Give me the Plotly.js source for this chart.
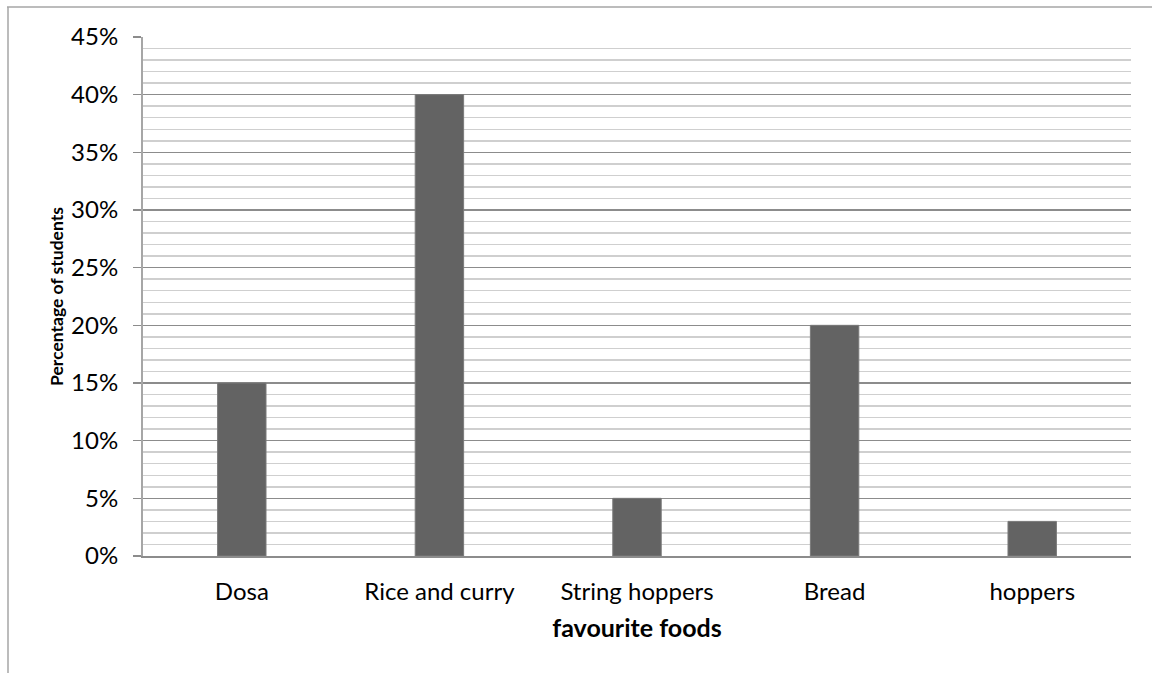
<!DOCTYPE html>
<html>
<head>
<meta charset="utf-8">
<script src="https://cdn.plot.ly/plotly-3.0.1.min.js"></script>
<style>html,body{margin:0;padding:0;background:#fff;}#chart{width:1153px;height:673px;}</style>
</head>
<body>
<div id="chart"></div>
<script>
const categories = ["Dosa", "Rice and curry", "String hoppers", "Bread", "hoppers"];
const percentages = [0.15, 0.40, 0.05, 0.20, 0.03];
const yTitle = "Percentage of students";
const xTitle = "favourite foods";

const FONT = "Lato, 'Open Sans', sans-serif";

const trace = {
  type: "bar",
  x: categories,
  y: percentages,
  marker: {color: "#636363", line: {color: "#7a7a7a", width: 1}},
  hoverinfo: "x+y"
};

const layout = {
  width: 1153,
  height: 673,
  margin: {l: 143, r: 22, t: 37, b: 117},
  paper_bgcolor: "#ffffff",
  plot_bgcolor: "#ffffff",
  showlegend: false,
  bargap: 0.755,
  font: {family: FONT, color: "#000000", size: 24},
  xaxis: {
    type: "category",
    showgrid: false,
    zeroline: false,
    showline: true,
    linecolor: "#8c8c8c",
    linewidth: 2,
    ticks: "",
    ticklabelstandoff: 13,
    tickfont: {family: FONT, size: 24, color: "#000"},
    title: {text: xTitle, font: {family: FONT, size: 25, color: "#000", weight: "bold"}, standoff: 16}
  },
  yaxis: {
    range: [0, 0.45],
    dtick: 0.05,
    tick0: 0,
    tickformat: ".0%",
    showgrid: true,
    gridcolor: "#8c8c8c",
    gridwidth: 1.5,
    zeroline: false,
    showline: true,
    linecolor: "#a6a6a6",
    linewidth: 2,
    ticks: "outside",
    ticklen: 8,
    tickcolor: "#8c8c8c",
    tickwidth: 1.5,
    ticklabelstandoff: 10,
    tickfont: {family: FONT, size: 24, color: "#000"},
    minor: {dtick: 0.01, showgrid: true, gridcolor: "#cfcfcf", gridwidth: 1.5, ticks: ""},
    title: {text: yTitle, font: {family: FONT, size: 17.5, color: "#000", weight: "bold"}, standoff: 3}
  },
  shapes: [
    {type: "line", xref: "paper", yref: "paper", x0: (7 - 143) / 988, x1: (1152 - 143) / 988, y0: (556 - 7) / 519, y1: (556 - 7) / 519, line: {color: "#a6a6a6", width: 1.5}},
    {type: "line", xref: "paper", yref: "paper", x0: (8 - 143) / 988, x1: (8 - 143) / 988, y0: (556 - 7) / 519, y1: (556 - 680) / 519, line: {color: "#a6a6a6", width: 1.5}}
  ]
};

Plotly.newPlot("chart", [trace], layout, {displayModeBar: false, staticPlot: true});
</script>
</body>
</html>
